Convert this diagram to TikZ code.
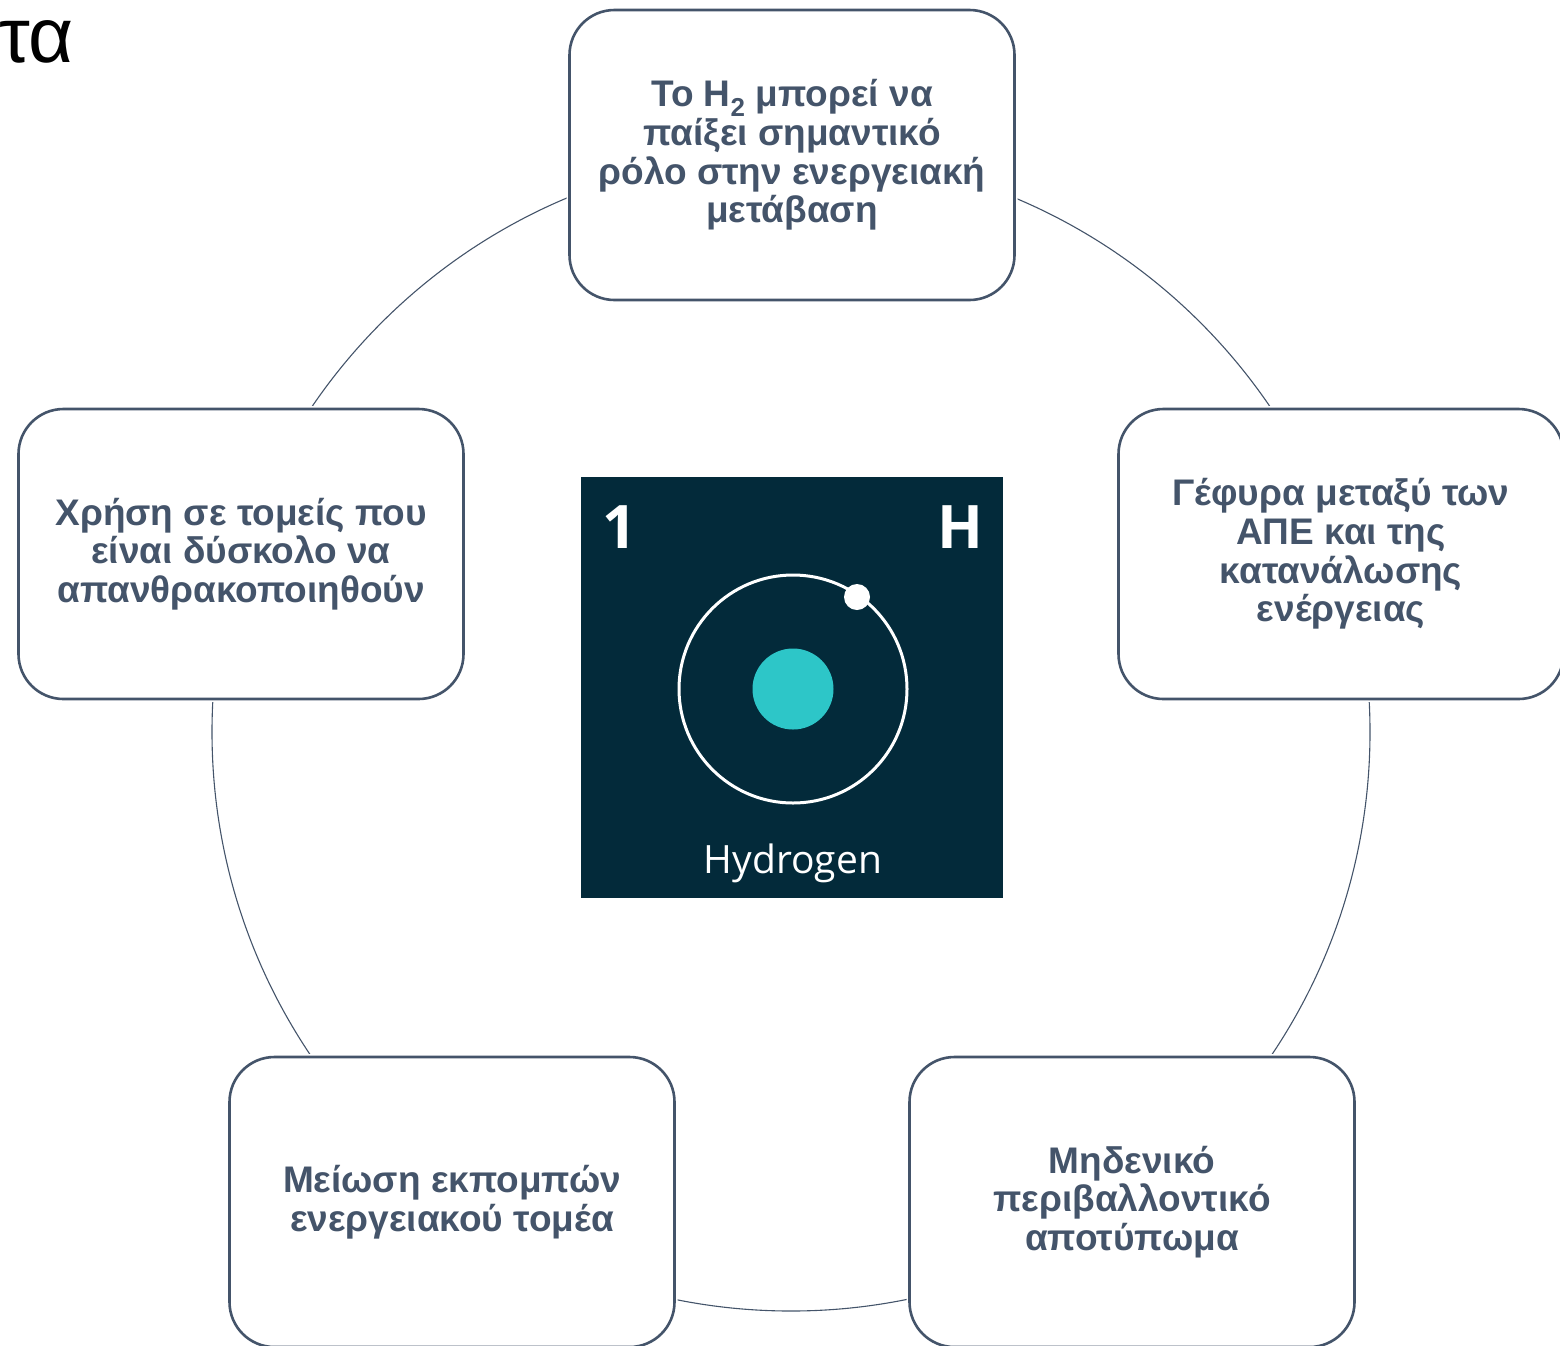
\documentclass[tikz,border=0pt]{standalone}
\usepackage{fontspec}
\setmainfont{Liberation Sans}
\newfontfamily\elemfont{Open Sans}
\usetikzlibrary{calc}

\definecolor{slate}{HTML}{44546A}
\definecolor{tile}{HTML}{032A3A}
\definecolor{nucleus}{HTML}{2DC6C8}

\tikzset{
  ideabox/.style={
    draw=slate, line width=2.6pt, fill=white,
    preaction={draw=white, line width=6pt},
    rounded corners=45pt,
    minimum width=445pt, minimum height=290pt,
    inner sep=0pt, align=center, text=slate,
    font=\fontsize{37}{38.7}\selectfont\bfseries
  },
  ring/.style={draw=slate, line width=1.1pt},
  tilefont/.style={text=white, inner sep=0pt}
}

\begin{document}
\begin{tikzpicture}[x=1pt, y=-1pt]
  \useasboundingbox (0,0) rectangle (1560,1345);

  % partial title at the top left
  \node[anchor=base west, inner sep=0pt, font=\fontsize{78}{80}\selectfont] (title) at (-1,62) {τα};

  % ring linking the five statements
  \coordinate (hub) at (791,732);
  \draw[ring] (hub) circle[radius=579pt];

  % statements placed around the ring
  \node[ideabox] (transition) at (792,155)
    {Το H\textsubscript{2} μπορεί να\\παίξει σημαντικό\\ρόλο στην ενεργειακή\\μετάβαση};
  \node[ideabox] (bridge) at (1341,554)
    {Γέφυρα μεταξύ των\\ΑΠΕ και της\\κατανάλωσης\\ενέργειας};
  \node[ideabox] (footprint) at (1132,1202)
    {Μηδενικό\\περιβαλλοντικό\\αποτύπωμα};
  \node[ideabox] (emissions) at (452,1202)
    {Μείωση εκπομπών\\ενεργειακού τομέα};
  \node[ideabox] (sectors) at (241,554)
    {Χρήση σε τομείς που\\είναι δύσκολο να\\απανθρακοποιηθούν};

  % hydrogen element tile in the middle
  \node[fill=tile, minimum width=422pt, minimum height=421pt, inner sep=0pt] (tile) at (792,687.5) {};
  \node[tilefont, anchor=base, font=\elemfont\fontsize{60}{60}\selectfont\bfseries] (number) at (620,548) {1};
  \node[tilefont, anchor=base, font=\elemfont\fontsize{60}{60}\selectfont\bfseries] (symbol) at (960,548) {H};
  \coordinate (core) at (793,689);
  \draw[white, line width=3pt] (core) circle[radius=114pt];
  \fill[nucleus] (core) circle[radius=40.5pt];
  \fill[white] ($(core)+(64,-92)$) circle[radius=13pt];
  \node[tilefont, anchor=base, font=\elemfont\fontsize{39}{39}\selectfont] (name) at (793,873) {Hydrogen};
\end{tikzpicture}
\end{document}
